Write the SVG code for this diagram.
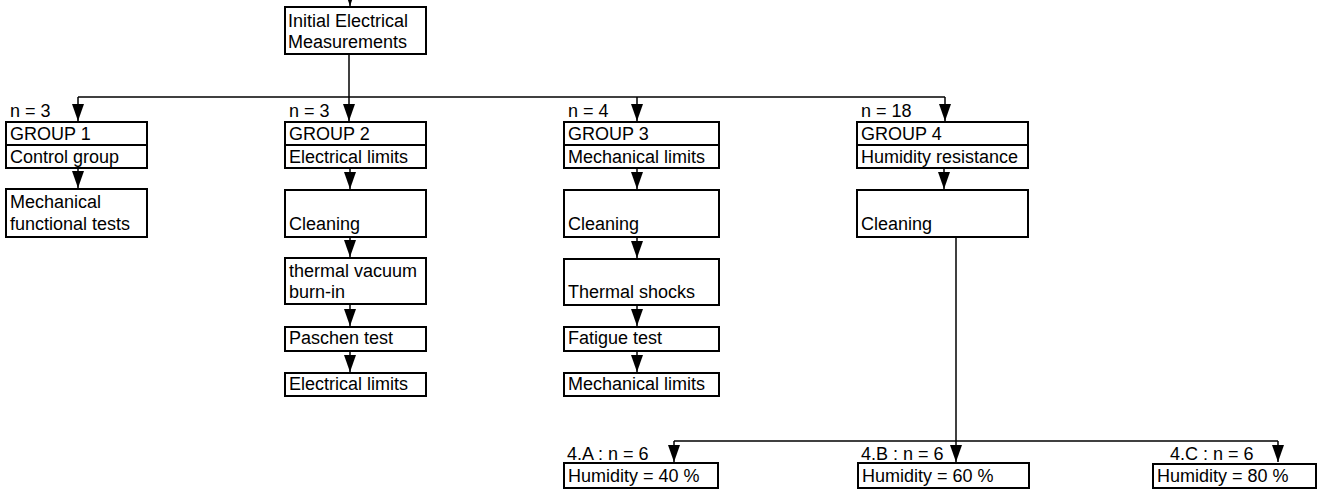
<svg xmlns="http://www.w3.org/2000/svg" width="1321" height="489" viewBox="0 0 1321 489">
<style>
.b{fill:#fff;stroke:#000;stroke-width:2}
.d{stroke:#000;stroke-width:2}
.l{fill:none;stroke:#000;stroke-width:1.5}
text{font-family:"Liberation Sans",Arial,sans-serif;font-size:18px;fill:#000}
</style>
<defs>
<marker id="ah" viewBox="0 0 17 12" refX="17" refY="6" markerWidth="17" markerHeight="12" markerUnits="userSpaceOnUse" orient="auto">
<path d="M0,0 L17,6 L0,12 Z" fill="#000"/>
</marker>
</defs>
<g id="connectors">
<line class="l" x1="350" y1="0" x2="350" y2="6"/>
<path d="M344,-11 L356,-11 L350,6 Z" fill="#000"/>
<line class="l" x1="349" y1="54" x2="349" y2="97"/>
<line class="l" x1="78" y1="97" x2="945" y2="97"/>
<line class="l" x1="78" y1="97" x2="78" y2="121" marker-end="url(#ah)"/>
<line class="l" x1="349" y1="97" x2="349" y2="121" marker-end="url(#ah)"/>
<line class="l" x1="637" y1="97" x2="637" y2="121" marker-end="url(#ah)"/>
<line class="l" x1="945" y1="97" x2="945" y2="121" marker-end="url(#ah)"/>
<line class="l" x1="78" y1="168" x2="78" y2="188" marker-end="url(#ah)"/>
<line class="l" x1="350" y1="168" x2="350" y2="189" marker-end="url(#ah)"/>
<line class="l" x1="350" y1="237" x2="350" y2="257" marker-end="url(#ah)"/>
<line class="l" x1="350" y1="304" x2="350" y2="326" marker-end="url(#ah)"/>
<line class="l" x1="350" y1="351" x2="350" y2="372" marker-end="url(#ah)"/>
<line class="l" x1="637" y1="168" x2="637" y2="189" marker-end="url(#ah)"/>
<line class="l" x1="637" y1="237" x2="637" y2="258" marker-end="url(#ah)"/>
<line class="l" x1="637" y1="305" x2="637" y2="326" marker-end="url(#ah)"/>
<line class="l" x1="637" y1="351" x2="637" y2="372" marker-end="url(#ah)"/>
<line class="l" x1="944" y1="168" x2="944" y2="189" marker-end="url(#ah)"/>
<line class="l" x1="956" y1="237" x2="956" y2="462" marker-end="url(#ah)"/>
<line class="l" x1="674" y1="441" x2="1278" y2="441"/>
<line class="l" x1="674" y1="441" x2="674" y2="462" marker-end="url(#ah)"/>
<line class="l" x1="1278" y1="441" x2="1278" y2="462" marker-end="url(#ah)"/>
</g>
<g id="initial">
<rect class="b" x="285" y="7" width="141" height="47"/>
<text x="288" y="27">Initial Electrical</text>
<text x="288" y="48">Measurements</text>
</g>
<g id="group1">
<text x="10" y="117">n = 3</text>
<rect class="b" x="6" y="122" width="141" height="46"/>
<line class="d" x1="6" y1="145" x2="147" y2="145"/>
<text x="10" y="140">GROUP 1</text>
<text x="10" y="163">Control group</text>
</g>
<g id="g1-mech">
<rect class="b" x="6" y="189" width="141" height="48"/>
<text x="10" y="208">Mechanical</text>
<text x="10" y="230">functional tests</text>
</g>
<g id="group2">
<text x="289" y="117">n = 3</text>
<rect class="b" x="285" y="122" width="141" height="46"/>
<line class="d" x1="285" y1="145" x2="426" y2="145"/>
<text x="289" y="140">GROUP 2</text>
<text x="289" y="163">Electrical limits</text>
</g>
<g id="g2-cleaning">
<rect class="b" x="285" y="190" width="141" height="47"/>
<text x="289" y="230">Cleaning</text>
</g>
<g id="g2-thermal">
<rect class="b" x="285" y="258" width="141" height="46"/>
<text x="289" y="277">thermal vacuum</text>
<text x="289" y="298">burn-in</text>
</g>
<g id="g2-paschen">
<rect class="b" x="285" y="327" width="141" height="24"/>
<text x="289" y="344">Paschen test</text>
</g>
<g id="g2-elec">
<rect class="b" x="285" y="373" width="141" height="23"/>
<text x="289" y="390">Electrical limits</text>
</g>
<g id="group3">
<text x="568" y="117">n = 4</text>
<rect class="b" x="564" y="122" width="155" height="46"/>
<line class="d" x1="564" y1="145" x2="719" y2="145"/>
<text x="568" y="140">GROUP 3</text>
<text x="568" y="163">Mechanical limits</text>
</g>
<g id="g3-cleaning">
<rect class="b" x="564" y="190" width="155" height="47"/>
<text x="568" y="230">Cleaning</text>
</g>
<g id="g3-thermal">
<rect class="b" x="564" y="259" width="155" height="46"/>
<text x="568" y="298">Thermal shocks</text>
</g>
<g id="g3-fatigue">
<rect class="b" x="564" y="327" width="155" height="24"/>
<text x="568" y="344">Fatigue test</text>
</g>
<g id="g3-mech">
<rect class="b" x="564" y="373" width="155" height="23"/>
<text x="568" y="390">Mechanical limits</text>
</g>
<g id="group4">
<text x="861" y="117">n = 18</text>
<rect class="b" x="857" y="122" width="171" height="46"/>
<line class="d" x1="857" y1="145" x2="1028" y2="145"/>
<text x="861" y="140">GROUP 4</text>
<text x="861" y="163">Humidity resistance</text>
</g>
<g id="g4-cleaning">
<rect class="b" x="857" y="190" width="171" height="47"/>
<text x="861" y="230">Cleaning</text>
</g>
<g id="g4a">
<text x="567" y="460">4.A : n = 6</text>
<rect class="b" x="564" y="463" width="154" height="25"/>
<text x="568" y="482">Humidity = 40 %</text>
</g>
<g id="g4b">
<text x="861" y="460">4.B : n = 6</text>
<rect class="b" x="858" y="463" width="171" height="25"/>
<text x="862" y="482">Humidity = 60 %</text>
</g>
<g id="g4c">
<text x="1170" y="460">4.C : n = 6</text>
<rect class="b" x="1153" y="464" width="163" height="24"/>
<text x="1157" y="482">Humidity = 80 %</text>
</g>
</svg>
